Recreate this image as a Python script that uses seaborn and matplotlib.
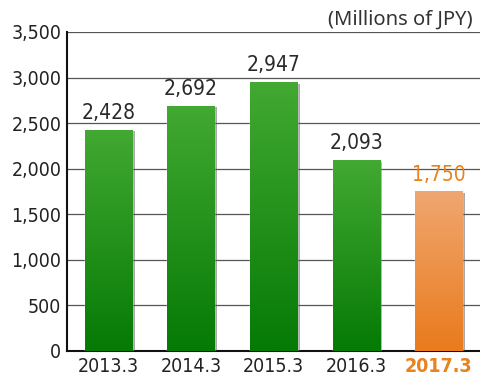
import numpy as np
import pandas as pd
import matplotlib
matplotlib.use("Agg")
import matplotlib.pyplot as plt
import matplotlib.patheffects as pe
from matplotlib.colors import LinearSegmentedColormap
import seaborn as sns

# data
years = ["2013.3", "2014.3", "2015.3", "2016.3", "2017.3"]
sales = [2428, 2692, 2947, 2093, 1750]
highlight = [False, False, False, False, True]

df = pd.DataFrame({"year": years, "sales": sales})

sns.set_theme(style="white")
plt.rcParams["font.family"] = ["DejaVu Sans"]
plt.rcParams["font.stretch"] = "condensed"

fig = plt.figure(figsize=(4.8, 3.76), dpi=100)
ax = fig.add_axes([0.1396, 0.0665, 0.8604, 0.8484])

ax = sns.barplot(data=df, x="year", y="sales", color="#2a9a1e", width=0.57, ax=ax, zorder=3)

green = LinearSegmentedColormap.from_list("g", ["#057a05", "#42a932"])
orange = LinearSegmentedColormap.from_list("o", ["#e97b1c", "#f0a670"])
grad = np.linspace(0, 1, 256).reshape(-1, 1)

for patch, hl in zip(ax.patches, highlight):
    x0, y0 = patch.get_x(), patch.get_y()
    w, h = patch.get_width(), patch.get_height()
    patch.set_path_effects([pe.SimplePatchShadow(offset=(2, -1), shadow_rgbFace="#555555", alpha=0.5), pe.Normal()])
    im = ax.imshow(grad, cmap=orange if hl else green, aspect="auto",
                   extent=(x0, x0 + w, y0, y0 + h), origin="lower", zorder=4)
    im.set_clip_path(patch)

ax.set_xlim(-0.5, 4.5)
ax.set_ylim(0, 3500)
ax.set_yticks(range(0, 3501, 500))
ax.set_yticklabels([f"{v:,}" for v in range(0, 3501, 500)])
ax.yaxis.grid(True, color="#555555", linewidth=0.9)
ax.set_axisbelow(True)

for i, (v, hl) in enumerate(zip(sales, highlight)):
    ax.text(i, v + 120, f"{v:,}", ha="center", va="baseline", fontsize=15,
            color="#e8821e" if hl else "#2a2a2a", zorder=5)

ax.tick_params(axis="both", labelsize=14, length=0, pad=4, colors="#222222")
for lbl, hl in zip(ax.get_xticklabels(), highlight):
    if hl:
        lbl.set_color("#e8821e")
        lbl.set_fontweight("bold")

ax.set_xlabel("")
ax.set_ylabel("")
for s in ["top", "right"]:
    ax.spines[s].set_visible(False)
for s in ["left", "bottom"]:
    ax.spines[s].set_color("#111111")
    ax.spines[s].set_linewidth(1.5)

fig.text(0.985, 0.975, "(Millions of JPY)", ha="right", va="top", fontsize=14.5,
         color="#333333", family=["Noto Sans", "DejaVu Sans"], fontstretch="normal")

fig.savefig("out.png", dpi=100)
